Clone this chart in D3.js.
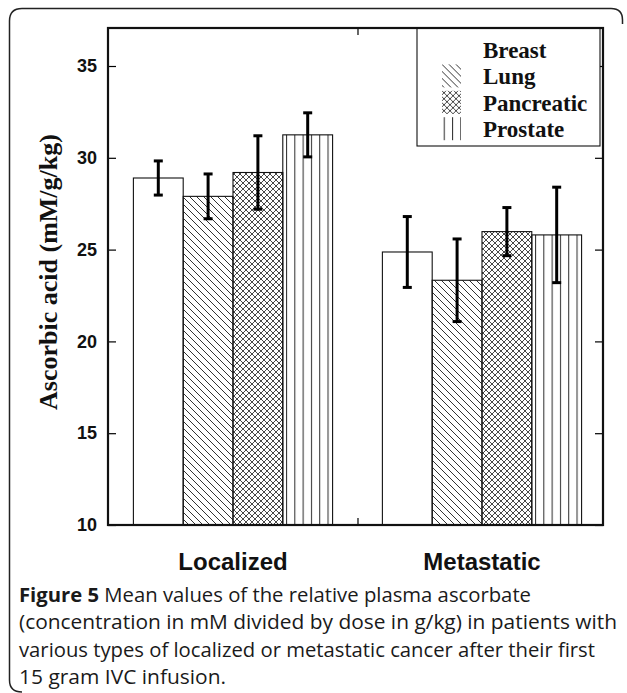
<html lang="en">
  <head>
    <meta charset="UTF-8">
    <title>Figure 5 - plasma ascorbate</title>
    <script src="https://d3js.org/d3.v7.min.js"></script>
    <style>
body, html {
  margin: 0;
  padding: 0;
  width: 100%;
  height: 100%;
  background: white;
  overflow: hidden;
}
svg {
  display: block;
}
    </style>
  </head>
  <body>
    <svg width="627" height="693"></svg>

    <script>
      // values
      const groups = ["Localized", "Metastatic"];
      const types = ["Breast", "Lung", "Pancreatic", "Prostate"];
      const localizedMeans = [28.9, 27.9, 29.2, 31.25];
      const localizedErr = [0.93, 1.22, 2.0, 1.2];
      const metastaticMeans = [24.87, 23.33, 25.98, 25.8];
      const metastaticErr = [1.93, 2.25, 1.31, 2.6];
      const yTicks = [10, 15, 20, 25, 30, 35];
      const captionLines = [
        ["Figure 5", " Mean values of the relative plasma ascorbate"],
        ["", "(concentration in mM divided by dose in g/kg) in patients with"],
        ["", "various types of localized or metastatic cancer after their first"],
        ["", "15 gram IVC infusion."]
      ];

      const means = [localizedMeans, metastaticMeans];
      const errs = [localizedErr, metastaticErr];
      const rows = [];
      groups.forEach((g, gi) => {
        types.forEach((t, ti) => {
          rows.push({group: g, gi, type: t, ti, mean: means[gi][ti], err: errs[gi][ti]});
        });
      });

      const svg = d3.select("svg");
      const pLeft = 108, pRight = 603, pTop = 28, pBottom = 525;
      const barW = 0.2;

      const x = d3.scaleLinear().domain([0.498, 2.486]).range([pLeft, pRight]);
      const y = d3.scaleLinear().domain([10, 37.07]).range([pBottom, pTop]);

      // patterns
      const defs = svg.append("defs");
      const diag = defs.append("pattern").attr("id", "lung")
        .attr("patternUnits", "userSpaceOnUse").attr("width", 7).attr("height", 7);
      diag.append("path").attr("d", "M-1,-1 L8,8 M-8,-1 L1,8 M6,-1 L15,8")
        .attr("stroke", "#333").attr("stroke-width", 1);

      const cross = defs.append("pattern").attr("id", "pancreatic")
        .attr("patternUnits", "userSpaceOnUse").attr("width", 6).attr("height", 6);
      cross.append("path").attr("d", "M-1,-1 L7,7 M-7,-1 L1,7 M5,-1 L13,7 M7,-1 L-1,7 M1,-1 L-7,7 M13,-1 L5,7")
        .attr("stroke", "#333").attr("stroke-width", 0.9);

      const vert = defs.append("pattern").attr("id", "prostate")
        .attr("patternUnits", "userSpaceOnUse").attr("width", 8.3).attr("height", 10)
        .attr("x", 286);
      vert.append("path").attr("d", "M0.5,0 L0.5,10")
        .attr("stroke", "#333").attr("stroke-width", 1.1);

      const fills = {Breast: "white", Lung: "url(#lung)", Pancreatic: "url(#pancreatic)", Prostate: "url(#prostate)"};

      // outer frame of the figure panel
      svg.append("path")
        .attr("d", "M22,692 Q9.5,692 9.5,680 L9.5,21 Q9.5,8.5 22,8.5 L611,8.5 Q622.5,8.5 622.5,20 L622.5,24")
        .attr("fill", "none").attr("stroke", "#222").attr("stroke-width", 1.5);

      // bars
      svg.selectAll("rect.bar")
        .data(rows)
        .join("rect")
        .attr("class", "bar")
        .attr("x", d => x(d.gi + 1 - 2 * barW + d.ti * barW))
        .attr("width", d => x(barW) - x(0))
        .attr("y", d => y(d.mean))
        .attr("height", d => y(10) - y(d.mean))
        .attr("fill", d => fills[d.type])
        .attr("stroke", "#111")
        .attr("stroke-width", 1.1);

      // error bars
      const eb = svg.selectAll("g.err")
        .data(rows)
        .join("g")
        .attr("class", "err")
        .attr("transform", d => `translate(${x(d.gi + 1 - 2 * barW + (d.ti + 0.5) * barW)},0)`);
      eb.append("line")
        .attr("y1", d => y(d.mean + d.err)).attr("y2", d => y(d.mean - d.err))
        .attr("stroke", "black").attr("stroke-width", 3);
      eb.append("line")
        .attr("x1", -4.5).attr("x2", 4.5)
        .attr("y1", d => y(d.mean + d.err)).attr("y2", d => y(d.mean + d.err))
        .attr("stroke", "black").attr("stroke-width", 3);
      eb.append("line")
        .attr("x1", -4.5).attr("x2", 4.5)
        .attr("y1", d => y(d.mean - d.err)).attr("y2", d => y(d.mean - d.err))
        .attr("stroke", "black").attr("stroke-width", 3);

      // axes, ticks point inward
      const yLeft = svg.append("g").attr("transform", `translate(${pLeft},0)`)
        .call(d3.axisLeft(y).tickValues(yTicks).tickSize(-8).tickPadding(11));
      yLeft.select(".domain").remove();
      yLeft.selectAll("text")
        .attr("font-family", "'Liberation Sans', Arial, sans-serif")
        .attr("font-weight", "bold").attr("font-size", 18).attr("fill", "#111");

      const yRight = svg.append("g").attr("transform", `translate(${pRight},0)`)
        .call(d3.axisRight(y).tickValues(yTicks).tickSize(-8).tickFormat(""));
      yRight.select(".domain").remove();

      const xTop = svg.append("g").attr("transform", `translate(0,${pTop})`)
        .call(d3.axisTop(x).tickValues([1.5]).tickSize(-7).tickFormat(""));
      xTop.select(".domain").remove();
      const xBottom = svg.append("g").attr("transform", `translate(0,${pBottom})`)
        .call(d3.axisBottom(x).tickValues([1.5]).tickSize(-7).tickFormat(""));
      xBottom.select(".domain").remove();
      svg.selectAll(".tick line").attr("stroke", "black").attr("stroke-width", 1.2);

      // legend
      svg.append("rect")
        .attr("x", 417).attr("y", pTop).attr("width", 183).attr("height", 118)
        .attr("fill", "white").attr("stroke", "#111").attr("stroke-width", 1.1);

      const leg = svg.selectAll("g.leg")
        .data(types)
        .join("g")
        .attr("class", "leg")
        .attr("transform", (d, i) => `translate(0,${58 + i * 26.4})`);
      leg.filter(d => d !== "Breast").append("rect")
        .attr("x", 442).attr("y", -20).attr("width", 19).attr("height", 23)
        .attr("fill", d => fills[d]);
      leg.append("text")
        .attr("x", 483)
        .attr("font-family", "'Liberation Serif', 'Times New Roman', serif")
        .attr("font-weight", "bold").attr("font-size", 23).attr("fill", "#111")
        .text(d => d);

      // plot frame on top
      svg.append("rect")
        .attr("x", pLeft).attr("y", pTop).attr("width", pRight - pLeft).attr("height", pBottom - pTop)
        .attr("fill", "none").attr("stroke", "#111").attr("stroke-width", 2.2);

      // y axis title
      svg.append("text")
        .attr("transform", "translate(57,272) rotate(-90)")
        .attr("text-anchor", "middle")
        .attr("font-family", "'Liberation Serif', 'Times New Roman', serif")
        .attr("font-weight", "bold").attr("font-size", 26).attr("fill", "#111")
        .text("Ascorbic acid (mM/g/kg)");

      // group labels
      svg.selectAll("text.group")
        .data(groups)
        .join("text")
        .attr("class", "group")
        .attr("x", (d, i) => x(i + 1))
        .attr("y", 570)
        .attr("text-anchor", "middle")
        .attr("font-family", "'Liberation Sans', Arial, sans-serif")
        .attr("font-weight", "bold").attr("font-size", 24).attr("fill", "#111")
        .text(d => d);

      // caption
      const lineW = [512, 598, 576, 207];
      const cap = svg.selectAll("text.cap")
        .data(captionLines)
        .join("text")
        .attr("class", "cap")
        .attr("x", 19)
        .attr("y", (d, i) => 602 + i * 27.3)
        .attr("textLength", (d, i) => lineW[i])
        .attr("lengthAdjust", "spacingAndGlyphs")
        .attr("font-family", "'Open Sans', 'Noto Sans', sans-serif")
        .attr("font-size", 20).attr("fill", "#1a1a1a");
      cap.append("tspan").attr("font-weight", "bold").text(d => d[0]);
      cap.append("tspan").text(d => d[1]);
    </script>
  </body>
</html>
